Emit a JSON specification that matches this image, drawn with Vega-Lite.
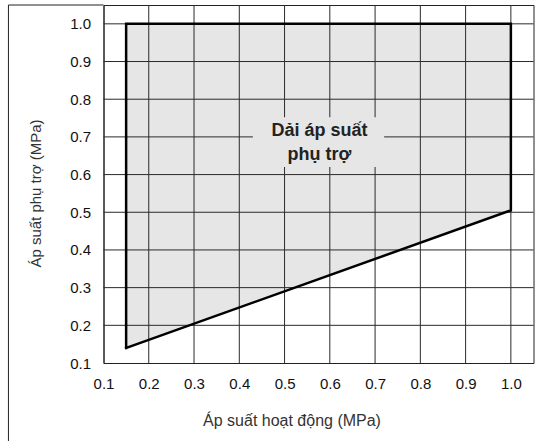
{
  "$schema": "https://vega.github.io/schema/vega-lite/v6.json",
  "width": 430,
  "height": 358,
  "padding": {"left": 103.5, "top": 5, "right": 10.5, "bottom": 78},
  "autosize": {"type": "none"},
  "background": "white",
  "config": {
    "view": {"stroke": "#222", "strokeWidth": 1},
    "font": "Liberation Sans"
  },
  "datasets": {
    "region": [
      {"x": 0.15, "ylow": 0.14, "yhigh": 1.0},
      {"x": 1.0, "ylow": 0.505, "yhigh": 1.0}
    ],
    "outline": [
      {"order": 1, "x": 0.15, "y": 0.14},
      {"order": 2, "x": 0.15, "y": 1.0},
      {"order": 3, "x": 1.0, "y": 1.0},
      {"order": 4, "x": 1.0, "y": 0.505},
      {"order": 5, "x": 0.15, "y": 0.14}
    ],
    "grid": [
      {"v": 0.2}, {"v": 0.3}, {"v": 0.4}, {"v": 0.5}, {"v": 0.6},
      {"v": 0.7}, {"v": 0.8}, {"v": 0.9}, {"v": 1.0}
    ],
    "box": [{"x1": 0.43, "x2": 0.72, "y1": 0.62, "y2": 0.752}],
    "label": [{"x": 0.577, "y": 0.716, "text": "Dải áp suất\nphụ trợ"}]
  },
  "encoding": {
    "x": {
      "type": "quantitative",
      "scale": {"domain": [0.1, 1.05], "nice": false, "zero": false},
      "axis": {
        "values": [0.1, 0.2, 0.3, 0.4, 0.5, 0.6, 0.7, 0.8, 0.9, 1.0],
        "format": ".1f", "grid": false, "ticks": false, "labelFlush": false,
        "labelOverlap": false,
        "domainColor": "#222", "labelColor": "#111", "labelFontSize": 15,
        "labelPadding": 13, "labelFont": "Liberation Sans",
        "title": "Áp suất hoạt động (MPa)", "titleFont": "Liberation Sans",
        "titleFontSize": 16, "titleFontWeight": "normal", "titleColor": "#333",
        "titleX": 188, "titleY": 62, "titleBaseline": "alphabetic"
      }
    },
    "y": {
      "type": "quantitative",
      "scale": {"domain": [0.1, 1.05], "nice": false, "zero": false},
      "axis": {
        "values": [0.1, 0.2, 0.3, 0.4, 0.5, 0.6, 0.7, 0.8, 0.9, 1.0],
        "format": ".1f", "grid": false, "ticks": false, "labelFlush": false,
        "labelOverlap": false,
        "domainColor": "#222", "labelColor": "#111", "labelFontSize": 15,
        "labelPadding": 13, "labelFont": "Liberation Sans",
        "title": "Áp suất phụ trợ (MPa)", "titleFont": "Liberation Sans",
        "titleFontSize": 15, "titleFontWeight": "normal", "titleColor": "#333",
        "titleX": -63, "titleY": 188, "titleBaseline": "alphabetic"
      }
    }
  },
  "layer": [
    {
      "data": {"name": "region"},
      "mark": {"type": "area", "color": "#e6e6e6", "opacity": 1},
      "encoding": {
        "x": {"field": "x"},
        "y": {"field": "ylow"},
        "y2": {"field": "yhigh"}
      }
    },
    {
      "data": {"name": "grid"},
      "mark": {"type": "rule", "color": "#2a2a2a", "strokeWidth": 1},
      "encoding": {"x": {"field": "v"}, "y": null}
    },
    {
      "data": {"name": "grid"},
      "mark": {"type": "rule", "color": "#2a2a2a", "strokeWidth": 1},
      "encoding": {"y": {"field": "v"}, "x": null}
    },
    {
      "data": {"name": "box"},
      "mark": {"type": "rect", "color": "#e6e6e6", "opacity": 1},
      "encoding": {
        "x": {"field": "x1"},
        "x2": {"field": "x2"},
        "y": {"field": "y1"},
        "y2": {"field": "y2"}
      }
    },
    {
      "data": {"name": "label"},
      "mark": {"type": "text", "font": "Liberation Sans", "fontSize": 18, "fontWeight": "bold", "color": "#222", "lineBreak": "\n", "lineHeight": 24, "align": "center", "baseline": "middle"},
      "encoding": {
        "x": {"field": "x"},
        "y": {"field": "y"},
        "text": {"field": "text"}
      }
    },
    {
      "data": {"name": "outline"},
      "mark": {"type": "line", "color": "#000", "strokeWidth": 2.5, "strokeJoin": "miter", "strokeCap": "square"},
      "encoding": {
        "x": {"field": "x"},
        "y": {"field": "y"},
        "order": {"field": "order"}
      }
    },
    {
      "data": {"values": [{}]},
      "mark": {"type": "rule", "color": "#222", "strokeWidth": 1, "clip": false},
      "encoding": {
        "x": {"datum": -0.11},
        "y": {"datum": -0.11},
        "y2": {"datum": 1.05}
      }
    },
    {
      "data": {"values": [{}]},
      "mark": {"type": "rule", "color": "#222", "strokeWidth": 1, "clip": false},
      "encoding": {
        "x": {"datum": -0.11},
        "x2": {"datum": 0.1},
        "y": {"datum": 1.05}
      }
    }
  ]
}
